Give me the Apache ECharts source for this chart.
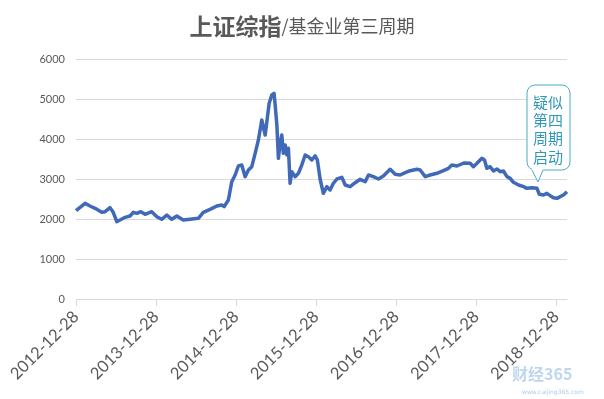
<!DOCTYPE html>
<html>
<head>
<meta charset="utf-8">
<script src="https://cdn.jsdelivr.net/npm/echarts@6/dist/echarts.min.js"></script>
<style>
html,body{margin:0;padding:0;background:#fff;}
#c{width:604px;height:399px;}
</style>
</head>
<body>
<div id="c"></div>
<script>
// weeks since 2012-12-28
var weeks = [0,5.9,9.1,12.4,16.7,18.9,22.1,24.2,26.5,28.6,31.9,35.1,37.2,39.5,42.1,44.9,49.2,52.5,55.7,59.0,62.2,65.5,69.7,74.1,79.5,82.7,87.1,91.5,94.7,96.2,
  99.0,101.2,103.4,105.5,107.7,109.9,112.0,114.2,116.4,118.5,120.7,121.7,122.9,124.0,125.5,127.2,128.7,129.4,130.5,131.5,132.6,133.7,134.7,135.9,137.0,138.0,139.1,140.2,142.4,144.5,146.7,148.9,151.0,153.2,155.4,156.8,158.6,160.7,163.0,165.1,167.2,169.5,
  172.7,174.9,178.1,181.4,184.6,187.9,190.0,193.2,196.5,199.7,204.1,207.4,210.6,213.9,217.1,221.5,223.6,226.9,230.1,234.5,238.7,242.0,244.2,247.5,252.0,256.1,258.2,260.5,263.7,265.4,266.9,269.1,271.2,273.5,275.6,277.7,280.0,282.1,284.2,287.5,290.8,292.9,296.2,299.5,301.0,303.7,305.9,308.1,310.2,312.5,314.6,316.7,319.0];
var closeValues = [2208,2392,2325,2267,2167,2183,2283,2167,1933,1975,2042,2075,2167,2142,2183,2117,2183,2058,1992,2100,1992,2075,1975,1992,2017,2167,2242,2325,2350,2308,
  2475,2933,3100,3325,3350,3058,3225,3308,3642,3975,4475,4517,4100,4433,4892,5100,5142,4850,4350,3517,3892,4100,3642,3850,3600,3767,2892,3183,3058,3142,3350,3600,3558,3475,3580,3475,3000,2642,2808,2725,2892,3000,
  3042,2850,2808,2908,2992,2933,3100,3058,3000,3075,3242,3117,3100,3158,3208,3242,3225,3058,3100,3142,3208,3267,3350,3325,3400,3392,3308,3392,3517,3475,3267,3308,3200,3250,3183,3200,3058,3017,2917,2850,2808,2767,2783,2767,2617,2600,2642,2583,2533,2517,2558,2600,2683];
var tickLabels = ['2012-12-28','2013-12-28','2014-12-28','2015-12-28','2016-12-28','2017-12-28','2018-12-28'];
var yTicks = [0,1000,2000,3000,4000,5000,6000];
var calloutText = ['疑似','第四','周期','启动'];

var data = weeks.map(function(w,i){return [w, closeValues[i]];});
var chart = echarts.init(document.getElementById('c'), null, {renderer:'canvas'});
var txt = '#595959';
var calloutColor = '#4bacc6';
chart.setOption({
  animation:false,
  backgroundColor:'#fff',
  title:{
    left:'center', top:10,
    text:'{a|上证综指}{b|/基金业第三周期}',
    textStyle:{
      rich:{
        a:{fontFamily:'Noto Sans CJK SC',fontSize:23,fontWeight:'bold',color:txt},
        b:{fontFamily:'Noto Sans CJK SC',fontSize:18,fontWeight:'normal',color:txt}
      }
    }
  },
  grid:{left:76,right:37,top:59,bottom:100},
  xAxis:{
    type:'value', min:0, max:319, interval:52,
    splitLine:{show:false},
    axisLine:{show:true,lineStyle:{color:'#d9d9d9',width:1}},
    axisTick:{show:true,length:7,lineStyle:{color:'#d9d9d9'}},
    axisLabel:{
      rotate:45, margin:15, fontFamily:'Lato', fontSize:16.5, color:txt,
      showMaxLabel:false,
      formatter:function(v){var k=Math.round(v/52);return (Math.abs(v-k*52)<0.01 && tickLabels[k])?tickLabels[k]:'';}
    }
  },
  yAxis:{
    type:'value', min:yTicks[0], max:yTicks[yTicks.length-1], interval:1000,
    axisLine:{show:false}, axisTick:{show:false},
    splitLine:{lineStyle:{color:'#d9d9d9',width:1}},
    axisLabel:{fontFamily:'Lato',fontSize:11,color:txt,margin:11,formatter:function(v){return String(v);}}
  },
  series:[{
    type:'line', data:data, showSymbol:false, symbol:'none',
    lineStyle:{color:'#4069b8',width:3.5,join:'round'}
  }],
  graphic:[
    {type:'rect', z:100, shape:{x:527,y:85,width:43,height:85,r:8},
      style:{fill:'#fff',stroke:calloutColor,lineWidth:1}},
    {type:'polygon', z:101, shape:{points:[[531.5,169],[543.5,169],[538,181]]},
      style:{fill:'#fff',stroke:null}},
    {type:'polyline', z:102, shape:{points:[[532,170],[538,182],[543,170]]},
      style:{stroke:calloutColor,lineWidth:1,fill:null}},
    {type:'text', z:103, left:533, top:93,
      style:{text:calloutText.join('\n'),fontFamily:'Noto Sans CJK SC',fontSize:15,lineHeight:18.3,fill:'#2f98ba',align:'left'}},
    {type:'text', z:90, left:512, top:366,
      style:{text:'财经365',fontFamily:'Noto Sans CJK SC',fontSize:16,fontWeight:'bold',fill:'rgba(70,140,210,0.35)'}},
    {type:'text', z:90, left:522, top:389,
      style:{text:'www.caijing365.com',fontFamily:'DejaVu Sans',fontSize:6,fill:'rgba(70,140,210,0.45)'}}
  ]
});
</script>
</body>
</html>
